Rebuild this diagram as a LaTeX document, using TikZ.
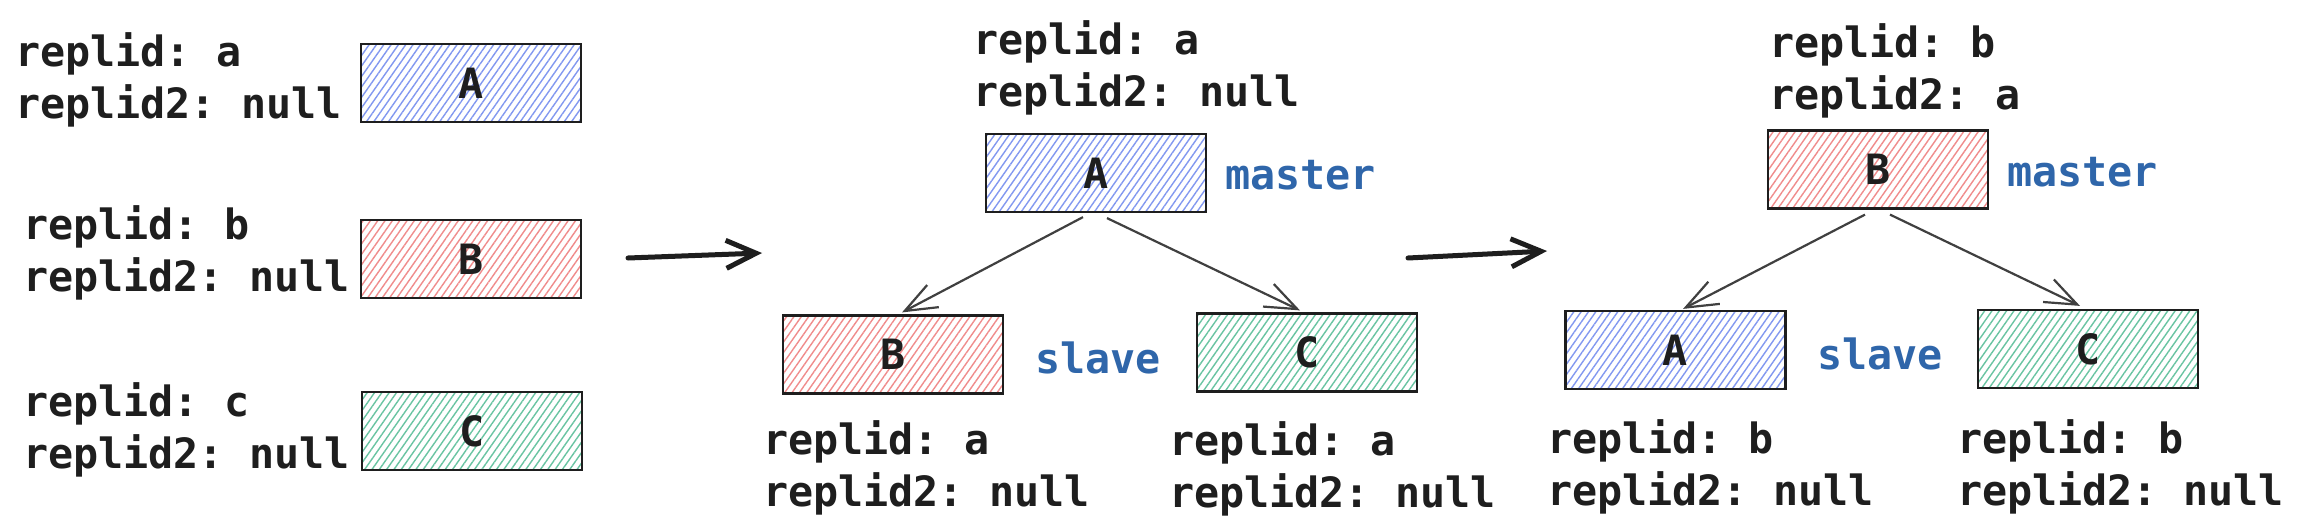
\documentclass[tikz,border=0pt]{standalone}
\usepackage{fontspec}
\setmonofont{DejaVu Sans Mono}
\usetikzlibrary{arrows.meta,patterns.meta}
\definecolor{ink}{HTML}{1E1E1E}
\definecolor{labblue}{HTML}{2F66AA}
\definecolor{hblue}{RGB}{130,152,240}
\definecolor{hred}{RGB}{240,140,140}
\definecolor{hgreen}{RGB}{105,196,162}
\newcommand\twolines[2]{\vtop{\hbox{#1}\hbox{#2}}}
\begin{document}
\begin{tikzpicture}[x=1pt,y=-1pt,
  every node/.style={font=\ttfamily\bfseries\fontsize{41.7}{52}\selectfont, text=ink, inner sep=0pt},
  srv/.style={draw=ink, line width=2.2pt, minimum width=220pt, minimum height=78pt, anchor=center},
  hb/.style={srv, pattern={Lines[angle=55,distance=6pt,line width=1.4pt]}, pattern color=hblue},
  hr/.style={srv, pattern={Lines[angle=55,distance=6pt,line width=1.4pt]}, pattern color=hred},
  hg/.style={srv, pattern={Lines[angle=55,distance=6pt,line width=1.4pt]}, pattern color=hgreen},
  info/.style={anchor=base west},
  role/.style={anchor=base west, text=labblue},
  link/.style={draw=ink!85, line width=2.2pt, -{Straight Barb[length=32pt,width=25pt]}},
  stage/.style={draw=ink, line width=5pt, line cap=round, -{Straight Barb[length=30pt,width=28pt]}}
]
\fill[white] (0,0) rectangle (2300,530);
\useasboundingbox (0,0) rectangle (2300,530);

% left column
\node[hb] (lA) at (471,83) {A};
\node[hr] (lB) at (471,259) {B};
\node[hg] (lC) at (472,431) {C};
\node[info] (tlA) at (15,66) {\twolines{replid: a}{replid2: null}};
\node[info] (tlB) at (23,239) {\twolines{replid: b}{replid2: null}};
\node[info] (tlC) at (23,416) {\twolines{replid: c}{replid2: null}};

% stage arrows
\coordinate (s1a) at (628,258);
\coordinate (s1b) at (762,253);
\coordinate (s2a) at (1408,258);
\coordinate (s2b) at (1547,251);
\draw[stage] (s1a) -- (s1b);
\draw[stage] (s2a) -- (s2b);

% middle
\node[hb] (mA) at (1096,173) {A};
\node[hr] (mB) at (893,354.5) {B};
\node[hg] (mC) at (1307,352.5) {C};
\node[info] (tmA) at (973,54) {\twolines{replid: a}{replid2: null}};
\node[role] (mmaster) at (1225,189) {master};
\node[role] (mslave) at (1035,373) {slave};
\node[info] (tmB) at (763,454) {\twolines{replid: a}{replid2: null}};
\node[info] (tmC) at (1169,455) {\twolines{replid: a}{replid2: null}};
\draw[link] ([xshift=-13pt,yshift=-4pt]mA.south) -- ([xshift=9pt,yshift=2pt]mB.north);
\draw[link] ([xshift=11pt,yshift=-5pt]mA.south) -- ([xshift=-7pt,yshift=2pt]mC.north);

% right
\node[hr] (rB) at (1878,169.5) {B};
\node[hb] (rA) at (1675.5,350) {A};
\node[hg] (rC) at (2088,349) {C};
\node[info] (trB) at (1769,57) {\twolines{replid: b}{replid2: a}};
\node[role] (rmaster) at (2007,186) {master};
\node[role] (rslave) at (1817,369) {slave};
\node[info] (trA) at (1547,453) {\twolines{replid: b}{replid2: null}};
\node[info] (trC) at (1957,453) {\twolines{replid: b}{replid2: null}};
\draw[link] ([xshift=-13pt,yshift=-5pt]rB.south) -- ([xshift=7.5pt,yshift=1pt]rA.north);
\draw[link] ([xshift=12pt,yshift=-5pt]rB.south) -- ([xshift=-8pt,yshift=3pt]rC.north);
\end{tikzpicture}
\end{document}
